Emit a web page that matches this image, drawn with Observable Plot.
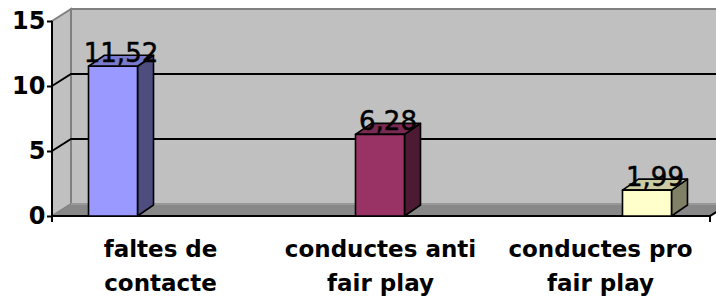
<!DOCTYPE html>
<html><head><meta charset="utf-8">
<script src="https://cdn.jsdelivr.net/npm/d3@7"></script>
<script src="https://cdn.jsdelivr.net/npm/@observablehq/plot@0.6"></script>
<style>html,body{margin:0;padding:0;background:#fff}</style>
</head><body><div id="chart"></div>
<script>
// ---- data ----
const categories = ["faltes de contacte", "conductes anti fair play", "conductes pro fair play"];
const categoryLabels = ["faltes de\ncontacte", "conductes anti\nfair play", "conductes pro\nfair play"];
const values = [11.52, 6.28, 1.99];
const valueLabels = ["11,52", "6,28", "1,99"];
const yTicks = [0, 5, 10, 15];

// ---- style ----
const frontColors = ["#9999ff", "#993366", "#ffffcc"];
const topColors   = ["#7a7acc", "#7a2952", "#cccca3"];
const sideColors  = ["#4d4d80", "#4d1a33", "#808066"];
const WALL = "#c0c0c0", WALL_EDGE = "#808080", FLOOR = "#888888";
const DX = 19, DY = -12;          // wall depth
const BDX = 16, BDY = -11;        // bar depth
const SPREAD = 1.2136;            // perspective spread of bars vs. category bands
const BAR_FRAC = 49 / 220;        // bar width relative to band

const data = categories.map((c, i) => ({category: c, value: values[i], label: valueLabels[i], i}));

function background(index, scales, vals, dims) {
  const {y} = scales;
  const L = dims.marginLeft, R = dims.width - dims.marginRight;
  const B = y(0), T = y(yTicks[yTicks.length - 1]);
  const g = d3.create("svg:g");
  // back wall
  g.append("rect").attr("x", L + DX).attr("y", T + DY).attr("width", R - L + 40).attr("height", B - T)
    .attr("fill", WALL).attr("stroke", WALL_EDGE).attr("stroke-width", 2);
  // left wall
  g.append("path").attr("d", `M${L},${T}L${L + DX},${T + DY}L${L + DX},${B + DY}L${L},${B}Z`)
    .attr("fill", WALL).attr("stroke", WALL_EDGE).attr("stroke-width", 2);
  // gridlines
  for (const v of yTicks.slice(1, -1)) {
    g.append("path").attr("d", `M${L},${y(v)}L${L + DX},${y(v) + DY}H${dims.width + 10}`)
      .attr("fill", "none").attr("stroke", "#000").attr("stroke-width", 2);
  }
  // floor
  g.append("path").attr("d", `M${L},${B}L${L + DX},${B + DY}H${R + DX}L${R},${B}Z`)
    .attr("fill", FLOOR).attr("stroke", "none");
  g.append("path").attr("d", `M${L + DX},${B + DY}H${R + DX}`).attr("stroke", "#a0a0a0").attr("stroke-width", 1.5);
  g.append("path").attr("d", `M${L},${B}H${R}L${R + DX},${B + DY}`).attr("fill", "none")
    .attr("stroke", "#000").attr("stroke-width", 2);
  // front axis line and end ticks
  g.append("path").attr("d", `M${L},${T}V${B + 6}M${R},${B}V${B + 6}`).attr("stroke", "#000").attr("stroke-width", 2);
  return g.node();
}

function bars(index, scales, vals, dims) {
  const {x, y} = scales;
  const bw = x.bandwidth();
  const [r0, r1] = x.range();
  const mid = (r0 + r1) / 2;
  const w = bw * BAR_FRAC;
  const g = d3.create("svg:g").attr("stroke", "#000").attr("stroke-width", 1.6).attr("stroke-linejoin", "round");
  for (const d of data) {
    const xc = x(d.category) + bw / 2;
    const cx = mid + (xc - mid) * SPREAD;
    const x0 = cx - w / 2, x1 = cx + w / 2, t = y(d.value), b = y(0);
    g.append("path").attr("d", `M${x1},${t}L${x1 + BDX},${t + BDY}V${b + BDY}L${x1},${b}Z`).attr("fill", sideColors[d.i]);
    g.append("path").attr("d", `M${x0},${t}L${x0 + BDX},${t + BDY}H${x1 + BDX}L${x1},${t}Z`).attr("fill", topColors[d.i]);
    g.append("rect").attr("x", x0).attr("y", t).attr("width", w).attr("height", b - t).attr("fill", frontColors[d.i]);
  }
  const tg = g.append("g").attr("fill", "#000").attr("stroke", "#000").attr("stroke-width", 0.5)
    .attr("font-family", "DejaVu Sans").attr("font-size", 26).attr("text-anchor", "middle");
  for (const d of data) {
    const xc = x(d.category) + bw / 2;
    const cx = mid + (xc - mid) * SPREAD;
    tg.append("text").attr("x", cx + BDX / 2).attr("y", y(d.value) - 4).text(d.label);
  }
  return g.node();
}

const chart = Plot.plot({
  width: 716,
  height: 302,
  marginLeft: 52,
  marginRight: 6,
  marginTop: 21,
  marginBottom: 86,
  style: {fontFamily: "DejaVu Sans", background: "#fff", overflow: "hidden"},
  x: {type: "band", domain: categories, range: [50, 710], padding: 0},
  y: {domain: [0, 15]},
  marks: [
    background,
    Plot.axisY({ticks: yTicks, tickSize: 5, tickPadding: 2, tickFormat: d => String(d), label: null,
      fontSize: 24, fontWeight: "bold", stroke: "#000", strokeWidth: 2, fill: "#000"}),
    Plot.axisX({tickSize: 0, tickPadding: 16, label: null,
      tickFormat: d => categoryLabels[categories.indexOf(d)],
      fontSize: 23, fontWeight: "bold", lineHeight: 1.5, fill: "#000"}),
    bars
  ]
});
document.getElementById("chart").appendChild(chart);
</script>
</body></html>
